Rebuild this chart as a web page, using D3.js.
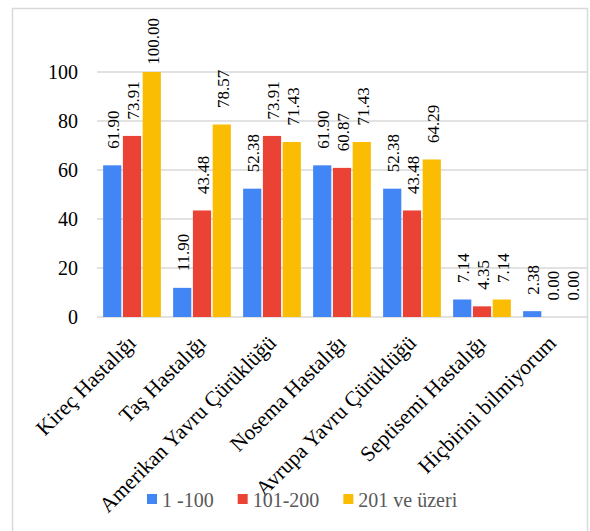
<!DOCTYPE html>
<html>
<head>
<meta charset="utf-8">
<script src="https://cdn.jsdelivr.net/npm/d3@7"></script>
<style>
  body { margin: 0; background: #fff; }
</style>
</head>
<body>
<svg id="chart" width="590" height="531" font-family="'Liberation Serif', 'Times New Roman', serif"></svg>
<script>
// data
var categories = ["Kireç Hastalığı", "Taş Hastalığı", "Amerikan Yavru Çürüklüğü",
  "Nosema Hastalığı", "Avrupa Yavru Çürüklüğü", "Septisemi Hastalığı", "Hiçbirini bilmiyorum"];
var seriesNames = ["1 -100", "101-200", "201 ve üzeri"];
var s1 = [61.90, 11.90, 52.38, 61.90, 52.38, 7.14, 2.38];
var s2 = [73.91, 43.48, 73.91, 60.87, 43.48, 4.35, 0.00];
var s3 = [100.00, 78.57, 71.43, 71.43, 64.29, 7.14, 0.00];
var yTicks = [0, 20, 40, 60, 80, 100];

var colors = ["#4285F4", "#EA4335", "#FBBC04"];
var series = [s1, s2, s3];
var serif = "'Liberation Serif', 'Times New Roman', serif";

var svg = d3.select("#chart");

// outer frame
svg.append("rect")
  .attr("x", 12.5).attr("y", 8.5)
  .attr("width", 575).attr("height", 530)
  .attr("fill", "none")
  .attr("stroke", "#d9d9d9")
  .attr("stroke-width", 1.5);

var plotLeft = 97, plotRight = 587, plotTop = 72, plotBottom = 317;

var x0 = d3.scaleBand()
  .domain(categories)
  .range([plotLeft, plotRight])
  .paddingInner(0.175)
  .paddingOuter(0.0875);

var x1 = d3.scaleBand()
  .domain(d3.range(3))
  .range([0, x0.bandwidth()])
  .paddingInner(0.08);

var y = d3.scaleLinear().domain([0, 100]).range([plotBottom, plotTop]);

// gridlines
svg.append("g")
  .selectAll("line")
  .data(yTicks)
  .join("line")
  .attr("x1", plotLeft).attr("x2", plotRight)
  .attr("y1", d => y(d)).attr("y2", d => y(d))
  .attr("stroke", "#d9d9d9")
  .attr("stroke-width", 1.3);

// y axis labels
svg.append("g")
  .selectAll("text")
  .data(yTicks)
  .join("text")
  .attr("x", 78)
  .attr("y", d => y(d))
  .attr("dy", "0.35em")
  .attr("text-anchor", "end")
  .attr("font-family", serif)
  .attr("font-size", 20)
  .attr("fill", "#000")
  .text(d => d);

// bars
var rows = categories.map((c, i) => ({
  cat: c,
  vals: series.map((s, k) => ({ k: k, v: s[i] }))
}));

var groups = svg.append("g")
  .selectAll("g")
  .data(rows)
  .join("g")
  .attr("transform", d => `translate(${x0(d.cat)},0)`);

groups.selectAll("rect")
  .data(d => d.vals.filter(e => e.v > 0))
  .join("rect")
  .attr("x", d => x1(d.k))
  .attr("y", d => y(d.v))
  .attr("width", x1.bandwidth())
  .attr("height", d => y(0) - y(d.v))
  .attr("fill", d => colors[d.k]);

// value labels, rotated; pushed down if they would leave the chart
groups.selectAll("text")
  .data(d => d.vals)
  .join("text")
  .attr("font-family", serif)
  .attr("font-size", 17)
  .attr("fill", "#000")
  .attr("text-anchor", "start")
  .text(d => d.v.toFixed(2))
  .each(function (d) {
    var len = this.getComputedTextLength();
    var yEnd = y(d.v) - 16.5;
    if (yEnd - len < 18) yEnd = 18 + len;
    var cx = x1(d.k) + x1.bandwidth() / 2 + 1;
    d3.select(this)
      .attr("transform", `translate(${cx},${yEnd}) rotate(-90)`)
      .attr("dy", "0.35em");
  });

// category labels
svg.append("g")
  .selectAll("text")
  .data(categories)
  .join("text")
  .attr("transform", d => `translate(${x0(d) + x0.bandwidth() / 2},${plotBottom + 22}) rotate(-45)`)
  .attr("text-anchor", "end")
  .attr("dy", "0.35em")
  .attr("font-family", serif)
  .attr("font-size", 21.5)
  .attr("fill", "#000")
  .text(d => d);

// legend
var legend = svg.append("g");
var lx = 147;
seriesNames.forEach(function (name, k) {
  legend.append("rect")
    .attr("x", lx).attr("y", 494)
    .attr("width", 10).attr("height", 10)
    .attr("fill", colors[k]);
  var t = legend.append("text")
    .attr("x", lx + 15).attr("y", 500)
    .attr("dy", "0.35em")
    .attr("font-family", serif)
    .attr("font-size", 20)
    .attr("fill", "#595959")
    .text(name);
  lx += 15 + t.node().getComputedTextLength() + 24;
});
</script>
</body>
</html>
